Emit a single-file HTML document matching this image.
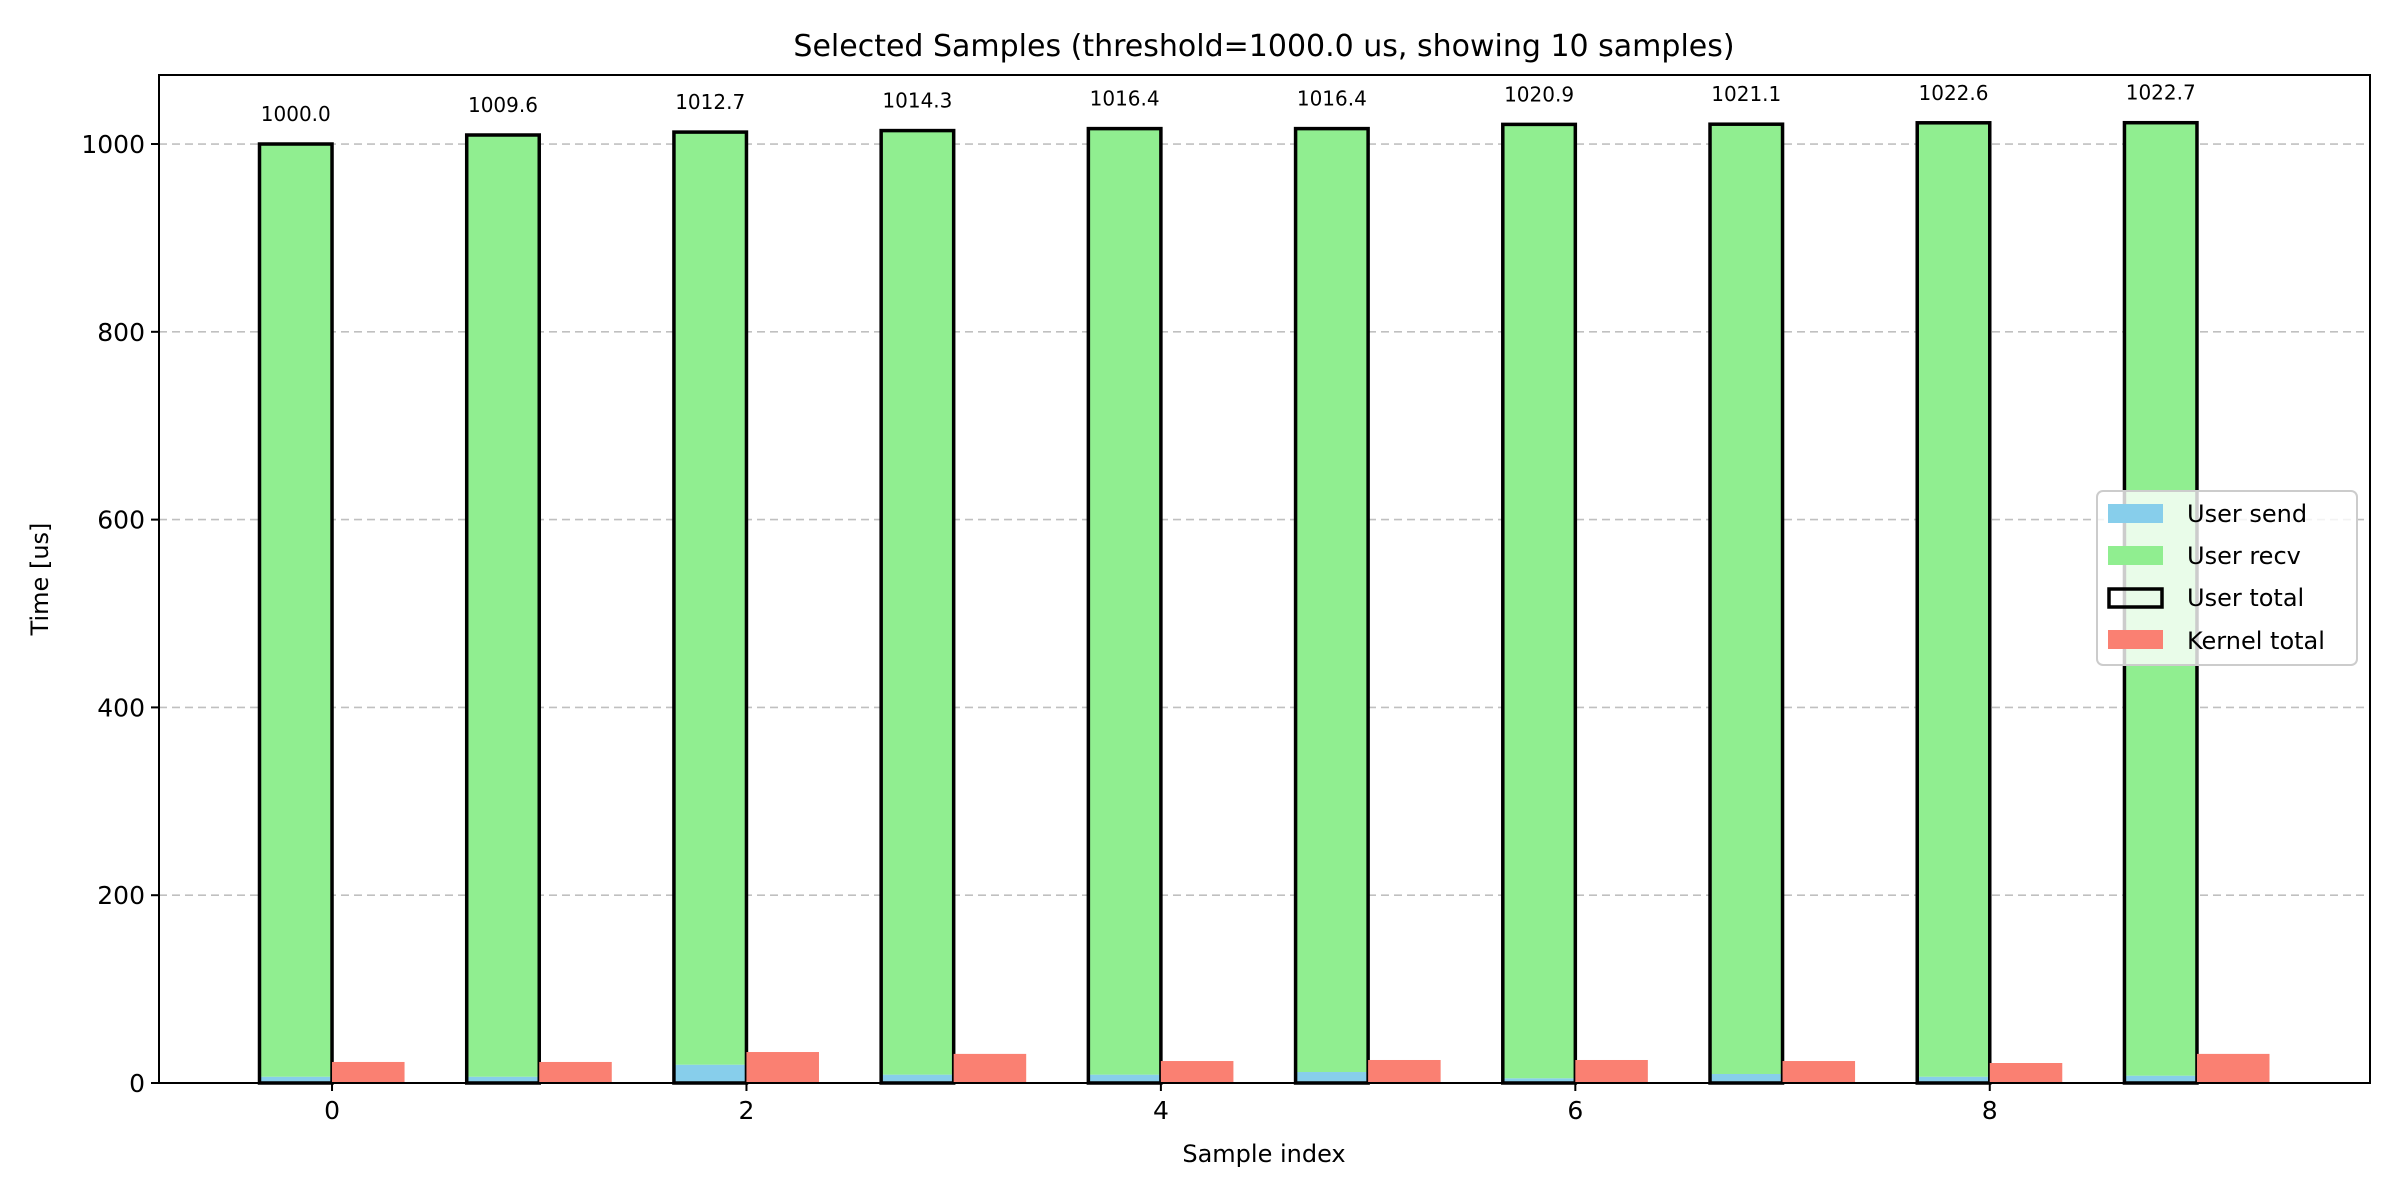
<!DOCTYPE html>
<html><head><meta charset="utf-8"><style>
body{margin:0;background:#fff}
svg{display:block;font-family:"DejaVu Sans","Liberation Sans",sans-serif}
</style></head><body>
<svg id="chart" width="2400" height="1200" xmlns="http://www.w3.org/2000/svg"></svg>
<script>
const categories = [0,1,2,3,4,5,6,7,8,9];
const userTotal = [1000.0,1009.6,1012.7,1014.3,1016.4,1016.4,1020.9,1021.1,1022.6,1022.7];
const userSend = [6.7,6.7,19.5,8.9,8.9,11.7,5.0,9.6,6.7,7.8];
const kernelTotal = [22.4,22.4,33.0,31.0,23.4,24.5,24.5,23.4,21.3,31.0];
const yTicks = [0,200,400,600,800,1000];
const xTicks = [0,2,4,6,8];

const L=159,R=2370,T=75,B=1083;
const xMin=-0.835,xMax=9.835,yMin=0,yMax=1073.5;
const W=0.35;
function xs(v){return L+(v-xMin)/(xMax-xMin)*(R-L);}
function ys(v){return B-(v-yMin)/(yMax-yMin)*(B-T);}
const svg=document.getElementById('chart');
const NS='http://www.w3.org/2000/svg';
function mk(tag,attrs,parent){const e=document.createElementNS(NS,tag);for(const k in attrs)e.setAttribute(k,attrs[k]);(parent||svg).appendChild(e);return e;}
function txt(s,attrs,parent){const e=mk('text',attrs,parent);e.textContent=s;return e;}

// grid
yTicks.forEach(t=>{
  const g=mk('line',{x1:L,x2:R,y1:ys(t),y2:ys(t),stroke:'#c0c0c0','stroke-width':1.6,'stroke-dasharray':'8,5'});
  
  
});
// bars
categories.forEach((c,i)=>{
  const ux=xs(c-W), bw=xs(W)-xs(0);
  const s=mk('rect',{x:ux,y:ys(userSend[i]),width:bw,height:ys(0)-ys(userSend[i]),fill:'#87ceeb'});
  
  
  const r=mk('rect',{x:ux,y:ys(userTotal[i]),width:bw,height:ys(userSend[i])-ys(userTotal[i]),fill:'#90ee90'});
  
  
  const o=mk('rect',{x:ux,y:ys(userTotal[i]),width:bw,height:ys(0)-ys(userTotal[i]),fill:'none',stroke:'#000','stroke-width':3.5});
  
  
  const k=mk('rect',{x:xs(c),y:ys(kernelTotal[i]),width:bw,height:ys(0)-ys(kernelTotal[i]),fill:'#fa8072'});
  
  
  const a=txt(userTotal[i].toFixed(1),{x:xs(c-W/2),y:ys(userTotal[i])-23,'font-size':20,'text-anchor':'middle',fill:'#000'});
  
  
});
// axes frame
const fr=mk('rect',{x:L,y:T,width:R-L,height:B-T,fill:'none',stroke:'#000','stroke-width':2});


yTicks.forEach(t=>{
  mk('line',{x1:L-8,x2:L,y1:ys(t),y2:ys(t),stroke:'#000','stroke-width':2});
  const l=txt(String(t),{x:L-14,y:ys(t)+9,'font-size':25,'text-anchor':'end'});
  
  
});
xTicks.forEach(t=>{
  mk('line',{x1:xs(t),x2:xs(t),y1:B,y2:B+8,stroke:'#000','stroke-width':2});
  const l=txt(String(t),{x:xs(t),y:B+36,'font-size':25,'text-anchor':'middle'});
  
  
});
</script>
<svg style="position:absolute;left:0;top:0" width="2400" height="1200" xmlns="http://www.w3.org/2000/svg" font-family="DejaVu Sans, Liberation Sans, sans-serif">
  <text x="1264" y="56" font-size="30" text-anchor="middle">Selected Samples (threshold=1000.0 us, showing 10 samples)</text>
  <text x="1264" y="1162" font-size="24" text-anchor="middle">Sample index</text>
  <text transform="translate(48,579) rotate(-90)" font-size="24" text-anchor="middle">Time [us]</text>
  <g>
    <rect x="2097" y="491" width="260" height="174" rx="6" fill="#fff" fill-opacity="0.8" stroke="#cccccc" stroke-width="2"/>
    <g><rect x="2108" y="504" width="55" height="19" fill="#87ceeb"/><text x="2187" y="522" font-size="24">User send</text></g>
    <g><rect x="2108" y="546" width="55" height="19" fill="#90ee90"/><text x="2187" y="564" font-size="24">User recv</text></g>
    <g><rect x="2109" y="589" width="53" height="18" fill="none" stroke="#000" stroke-width="3.5"/><text x="2187" y="606" font-size="24">User total</text></g>
    <g><rect x="2108" y="630" width="55" height="19" fill="#fa8072"/><text x="2187" y="649" font-size="24">Kernel total</text></g>
  </g>
</svg>
</body></html>
